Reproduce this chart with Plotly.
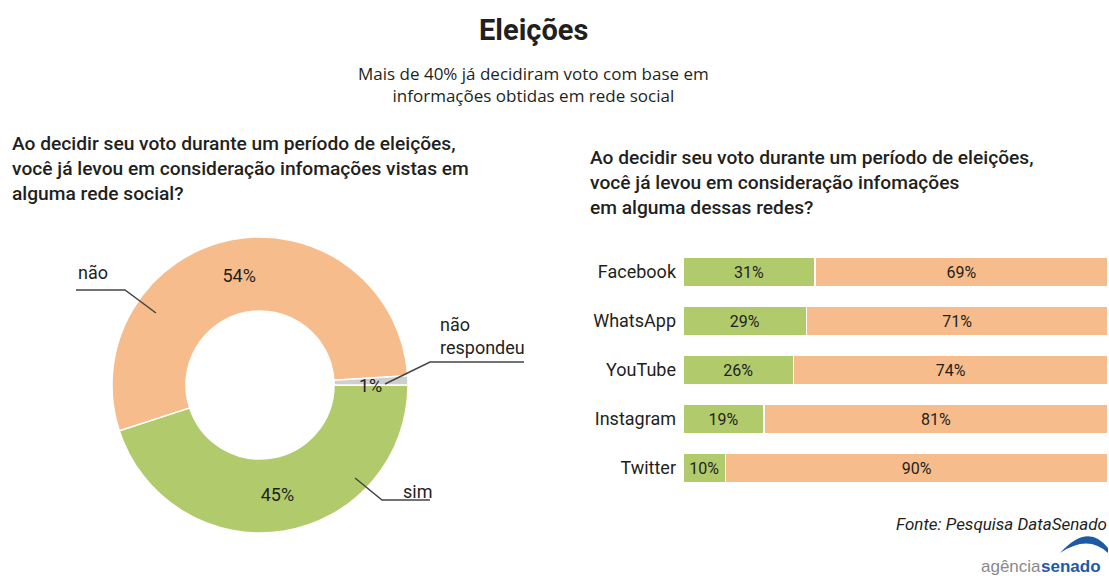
import plotly.graph_objects as go

# ---- data ----
pie_labels = ["sim", "não", "não respondeu"]
pie_values = [45, 54, 1]

networks = ["Facebook", "WhatsApp", "YouTube", "Instagram", "Twitter"]
sim_vals = [31, 29, 26, 19, 10]
nao_vals = [69, 71, 74, 81, 90]

GREEN = "#b1cb6c"
ORANGE = "#f6bc8b"
GRAY = "#cfcfcf"
TXT = "#231f20"
FONT = "Roboto, Liberation Sans, sans-serif"
W, H = 1109, 576

def px(x):
    return x / W

def py(y):
    return 1 - y / H

fig = go.Figure()

fig.add_trace(go.Pie(
    labels=pie_labels, values=pie_values, hole=0.5, sort=False,
    direction="clockwise", rotation=90,
    marker=dict(colors=[GREEN, ORANGE, GRAY], line=dict(color="white", width=1.5)),
    texttemplate=["%{value}%", "%{value}%", ""],
    textposition="inside", insidetextorientation="horizontal",
    textfont=dict(family=FONT, size=18, color=TXT),
    domain=dict(x=[px(112), px(408)], y=[py(533), py(237)]),
    showlegend=False, hoverinfo="label+percent",
))

fig.add_trace(go.Bar(
    y=networks, x=sim_vals, orientation="h", marker=dict(color=GREEN, line=dict(color="white", width=1.5)),
    text=[f"{v}%" for v in sim_vals], textposition="inside", insidetextanchor="middle",
    textfont=dict(family=FONT, size=16, color=TXT), showlegend=False, name="sim",
    xaxis="x", yaxis="y", constraintext="none",
))
fig.add_trace(go.Bar(
    y=networks, x=nao_vals, orientation="h", marker=dict(color=ORANGE, line=dict(color="white", width=1.5)),
    text=[f"{v}%" for v in nao_vals], textposition="inside", insidetextanchor="middle",
    textfont=dict(family=FONT, size=16, color=TXT), showlegend=False, name="não",
    xaxis="x", yaxis="y", constraintext="none",
))

ann = []
def add_text(x, y, text, size, xanchor="left", yanchor="middle", font=FONT, color=TXT, align="left", weight=None):
    f = dict(family=font, size=size, color=color)
    if weight:
        f["weight"] = weight
    ann.append(dict(x=px(x), y=py(y), xref="paper", yref="paper", text=text, showarrow=False,
                    xanchor=xanchor, yanchor=yanchor, align=align, borderpad=0, font=f))

add_text(533, 30, "<b>Eleições</b>", 29, xanchor="center")
add_text(533, 85, "Mais de 40% já decidiram voto com base em<br>informações obtidas em rede social", 17,
         xanchor="center", font="Open Sans, sans-serif", align="center")
add_text(11, 168, "Ao decidir seu voto durante um período de eleições,<br>você já levou em consideração infomações vistas em<br>alguma rede social?",
         19.2, xanchor="left", weight=500)
add_text(589, 182, "Ao decidir seu voto durante um período de eleições,<br>você já levou em consideração infomações<br>em alguma dessas redes?",
         19.2, xanchor="left", weight=500)
add_text(77, 273, "não", 18)
add_text(439, 336, "não<br>respondeu", 18)
add_text(402, 491, "sim", 18)
add_text(370, 385, "1%", 18, xanchor="center")
add_text(1108, 524, "<i>Fonte: Pesquisa DataSenado</i>", 17, xanchor="right")
add_text(1042, 566, "agência", 17, xanchor="right", font="Liberation Sans, sans-serif", color="#8a8a8a")
add_text(1040, 566, "<b>senado</b>", 17, xanchor="left", font="Liberation Sans, sans-serif", color="#1d5aa6")

shapes = []
def seg(pts):
    path = "M " + " L ".join(f"{px(a)},{py(b)}" for a, b in pts)
    shapes.append(dict(type="path", xref="paper", yref="paper", path=path,
                       line=dict(color="#444", width=1.5)))

seg([(76, 290), (125, 290), (156, 313)])
seg([(524, 362), (430, 362), (385, 384)])
seg([(355, 478), (382, 500), (430, 500)])

# logo arc
shapes.append(dict(type="path", xref="paper", yref="paper",
                   path=f"M {px(1060)},{py(553)} Q {px(1088)},{py(522)} {px(1108)},{py(548)} L {px(1108)},{py(553)} Q {px(1088)},{py(534)} {px(1060)},{py(553)} Z",
                   fillcolor="#1d5aa6", line=dict(width=0)))

fig.update_layout(
    width=W, height=H, margin=dict(l=0, r=0, t=0, b=0),
    paper_bgcolor="white", plot_bgcolor="white",
    barmode="stack", bargap=0.38,
    xaxis=dict(domain=[px(683), px(1108)], range=[0, 100], visible=False, fixedrange=True),
    yaxis=dict(domain=[py(492.5), py(247.5)], autorange="reversed", showgrid=False, showline=False,
               ticks="", tickfont=dict(family=FONT, size=18, color=TXT), ticklabelstandoff=6),
    annotations=ann, shapes=shapes,
    uniformtext=dict(minsize=10, mode="show"),
)

fig.write_html("out.html", config={"displayModeBar": False},
               post_script="document.body.style.margin='0';document.body.style.padding='0';")
